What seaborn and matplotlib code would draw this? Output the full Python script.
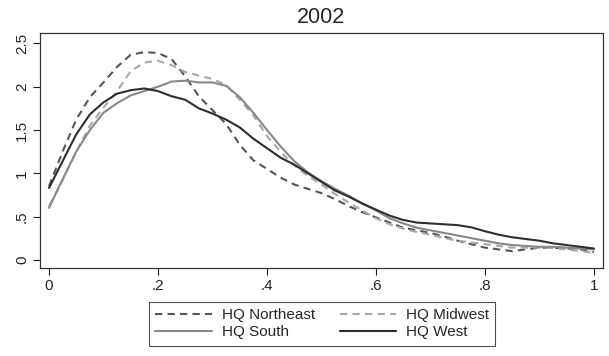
import numpy as np
import pandas as pd
import matplotlib
matplotlib.use("Agg")
import matplotlib.pyplot as plt
import seaborn as sns

# Kernel density estimates by headquarters region, 2002
x_grid = [0, .025, .05, .075, .1, .125, .15, .175, .2, .225, .25, .275, .3,
          .325, .35, .375, .4, .425, .45, .475, .5, .525, .55, .575, .6,
          .625, .65, .675, .7, .725, .75, .775, .8, .825, .85, .875, .9,
          .925, .95, .975, 1.0]

northeast = [0.85, 1.25, 1.62, 1.88, 2.05, 2.23, 2.37, 2.40, 2.39, 2.32, 2.12,
             1.89, 1.73, 1.57, 1.33, 1.15, 1.05, 0.95, 0.87, 0.82, 0.77, 0.70,
             0.62, 0.55, 0.49, 0.43, 0.37, 0.34, 0.31, 0.27, 0.22, 0.18,
             0.14, 0.12, 0.10, 0.12, 0.14, 0.14, 0.13, 0.12, 0.09]
midwest = [0.62, 0.92, 1.25, 1.55, 1.76, 1.95, 2.18, 2.28, 2.30, 2.25, 2.17,
           2.13, 2.09, 2.02, 1.85, 1.67, 1.43, 1.25, 1.09, 0.97, 0.87, 0.76,
           0.66, 0.57, 0.48, 0.41, 0.36, 0.32, 0.29, 0.25, 0.22, 0.20,
           0.18, 0.16, 0.14, 0.14, 0.14, 0.135, 0.12, 0.10, 0.08]
south = [0.60, 0.93, 1.25, 1.50, 1.70, 1.81, 1.90, 1.95, 2.00, 2.06, 2.07,
         2.05, 2.05, 2.01, 1.88, 1.70, 1.50, 1.31, 1.14, 1.01, 0.91, 0.82,
         0.74, 0.65, 0.57, 0.48, 0.42, 0.37, 0.34, 0.31, 0.28, 0.25,
         0.22, 0.19, 0.17, 0.16, 0.15, 0.15, 0.14, 0.13, 0.12]
west = [0.83, 1.14, 1.45, 1.68, 1.82, 1.92, 1.96, 1.98, 1.95, 1.89, 1.85,
        1.75, 1.69, 1.62, 1.53, 1.40, 1.29, 1.18, 1.10, 1.00, 0.90, 0.80,
        0.73, 0.65, 0.58, 0.51, 0.46, 0.43, 0.42, 0.41, 0.40, 0.375,
        0.33, 0.29, 0.26, 0.24, 0.22, 0.19, 0.17, 0.15, 0.13]

regions = ["HQ Northeast", "HQ Midwest", "HQ South", "HQ West"]
series = [northeast, midwest, south, west]

x_ticks = [0, .2, .4, .6, .8, 1]
x_tick_labels = ["0", ".2", ".4", ".6", ".8", "1"]
y_ticks = [0, .5, 1, 1.5, 2, 2.5]
y_tick_labels = ["0", ".5", "1", "1.5", "2", "2.5"]

df = pd.DataFrame({
    "x": np.tile(x_grid, len(regions)),
    "density": np.concatenate(series),
    "region": np.repeat(regions, len(x_grid)),
})

sns.set_style("white")
plt.rcParams["font.family"] = ["Liberation Sans", "DejaVu Sans"]

palette = {"HQ Northeast": "#555555", "HQ Midwest": "#a8a8a8",
           "HQ South": "#888888", "HQ West": "#2e2e2e"}
dashes = {"HQ Northeast": (3.5, 2.5), "HQ Midwest": (3.5, 2.5),
          "HQ South": "", "HQ West": ""}

fig = plt.figure(figsize=(6.09, 3.56), dpi=100)
ax = fig.add_axes([0.0657, 0.247, 0.9243, 0.660])

sns.lineplot(data=df, x="x", y="density", hue="region", style="region",
             palette=palette, dashes=dashes, hue_order=regions,
             style_order=regions, linewidth=1.5, ax=ax, legend=False)

ax.set_xlim(-0.0165, 1.0165)
ax.set_ylim(-0.096, 2.62)
ax.set_xticks(x_ticks)
ax.set_xticklabels(x_tick_labels, fontsize=11)
ax.set_yticks(y_ticks)
ax.set_yticklabels(y_tick_labels, fontsize=11, rotation=90, va="center")
ax.set_xlabel("")
ax.set_ylabel("")
ax.tick_params(axis="both", direction="out", length=5, width=0.8,
               color="#222222", pad=3, bottom=True, left=True)
for sp in ax.spines.values():
    sp.set_color("#333333")
    sp.set_linewidth(0.9)
ax.set_title("2002", fontsize=15.5, pad=7)

# Legend: two columns, row-major order
lines = {r: l for r, l in zip(regions, ax.get_lines())}
order = ["HQ Northeast", "HQ South", "HQ Midwest", "HQ West"]
leg = fig.legend([lines[r] for r in order], order, ncol=2,
                 loc="lower center", bbox_to_anchor=(0.529, 0.008),
                 fontsize=11, frameon=True, fancybox=False,
                 handlelength=3.7, columnspacing=1.64, handletextpad=0.65,
                 labelspacing=0.2, borderpad=0.4)
leg.get_frame().set_edgecolor("#222222")
leg.get_frame().set_linewidth(0.8)

fig.savefig("out.png", dpi=100, facecolor="white")
